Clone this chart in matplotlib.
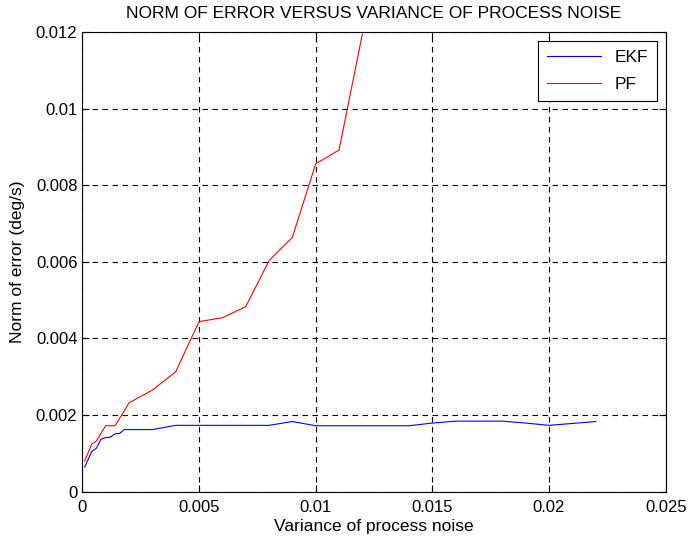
import numpy as np
import matplotlib.pyplot as plt

plt.rcParams['font.family'] = ['Liberation Sans', 'DejaVu Sans']

# process noise variance vs. norm of estimation error
ekf_x = [0.0001, 0.0004, 0.0006, 0.0008, 0.001, 0.0012, 0.0014, 0.0016, 0.0018,
         0.002, 0.003, 0.004, 0.005, 0.006, 0.007, 0.008, 0.009, 0.010, 0.011,
         0.012, 0.013, 0.014, 0.015, 0.016, 0.017, 0.018, 0.019, 0.020, 0.021, 0.022]
ekf_y = [0.00064, 0.00104, 0.00113, 0.00137, 0.00141, 0.00142, 0.00151, 0.00152, 0.00162,
         0.00162, 0.00162, 0.00173, 0.00173, 0.00173, 0.00173, 0.00173, 0.00183, 0.00172, 0.00172,
         0.00172, 0.00172, 0.00172, 0.00179, 0.00184, 0.00184, 0.00184, 0.00179, 0.00173, 0.00178, 0.00183]

pf_x = [0.0001, 0.0004, 0.0006, 0.001, 0.0014, 0.0018, 0.002, 0.003, 0.004,
        0.005, 0.006, 0.007, 0.008, 0.009, 0.010, 0.011, 0.012]
pf_y = [0.0008, 0.00124, 0.00132, 0.00172, 0.00172, 0.00211, 0.00232, 0.00265, 0.00313,
        0.00444, 0.00454, 0.00483, 0.00603, 0.00664, 0.00856, 0.00892, 0.01195]

xticks = [0, 0.005, 0.01, 0.015, 0.02, 0.025]
xticklabels = ['0', '0.005', '0.01', '0.015', '0.02', '0.025']
yticks = [0, 0.002, 0.004, 0.006, 0.008, 0.01, 0.012]
yticklabels = ['0', '0.002', '0.004', '0.006', '0.008', '0.01', '0.012']

fig = plt.figure(figsize=(6.92, 5.45), dpi=100)
ax = fig.add_axes([0.119, 0.098, 0.843, 0.843])

ax.plot(ekf_x, ekf_y, color='b', lw=0.8, label='EKF')
ax.plot(pf_x, pf_y, color='r', lw=0.8, label='PF')

ax.set_xlim(0, 0.025)
ax.set_ylim(0, 0.012)
ax.set_xticks(xticks)
ax.set_xticklabels(xticklabels)
ax.set_yticks(yticks)
ax.set_yticklabels(yticklabels)
ax.tick_params(direction='in', top=True, right=True, labelsize=12, length=5)
ax.tick_params(axis='x', pad=6)
ax.grid(True, color='k', linestyle=(0, (5, 4)), linewidth=0.8)
for s in ax.spines.values():
    s.set_linewidth(0.8)

ax.set_title('NORM OF ERROR VERSUS VARIANCE OF PROCESS NOISE', fontsize=12.5, pad=10)
ax.set_xlabel('Variance of process noise', fontsize=12.5, labelpad=3)
ax.set_ylabel('Norm of error (deg/s)', fontsize=12.5, labelpad=8)

leg = ax.legend(loc='upper right', fancybox=False, edgecolor='k', framealpha=1,
                fontsize=12.5, handlelength=3.1, borderaxespad=0.5,
                labelspacing=0.7, borderpad=0.5)
leg.get_frame().set_linewidth(0.8)

fig.savefig('out.png', dpi=100)
